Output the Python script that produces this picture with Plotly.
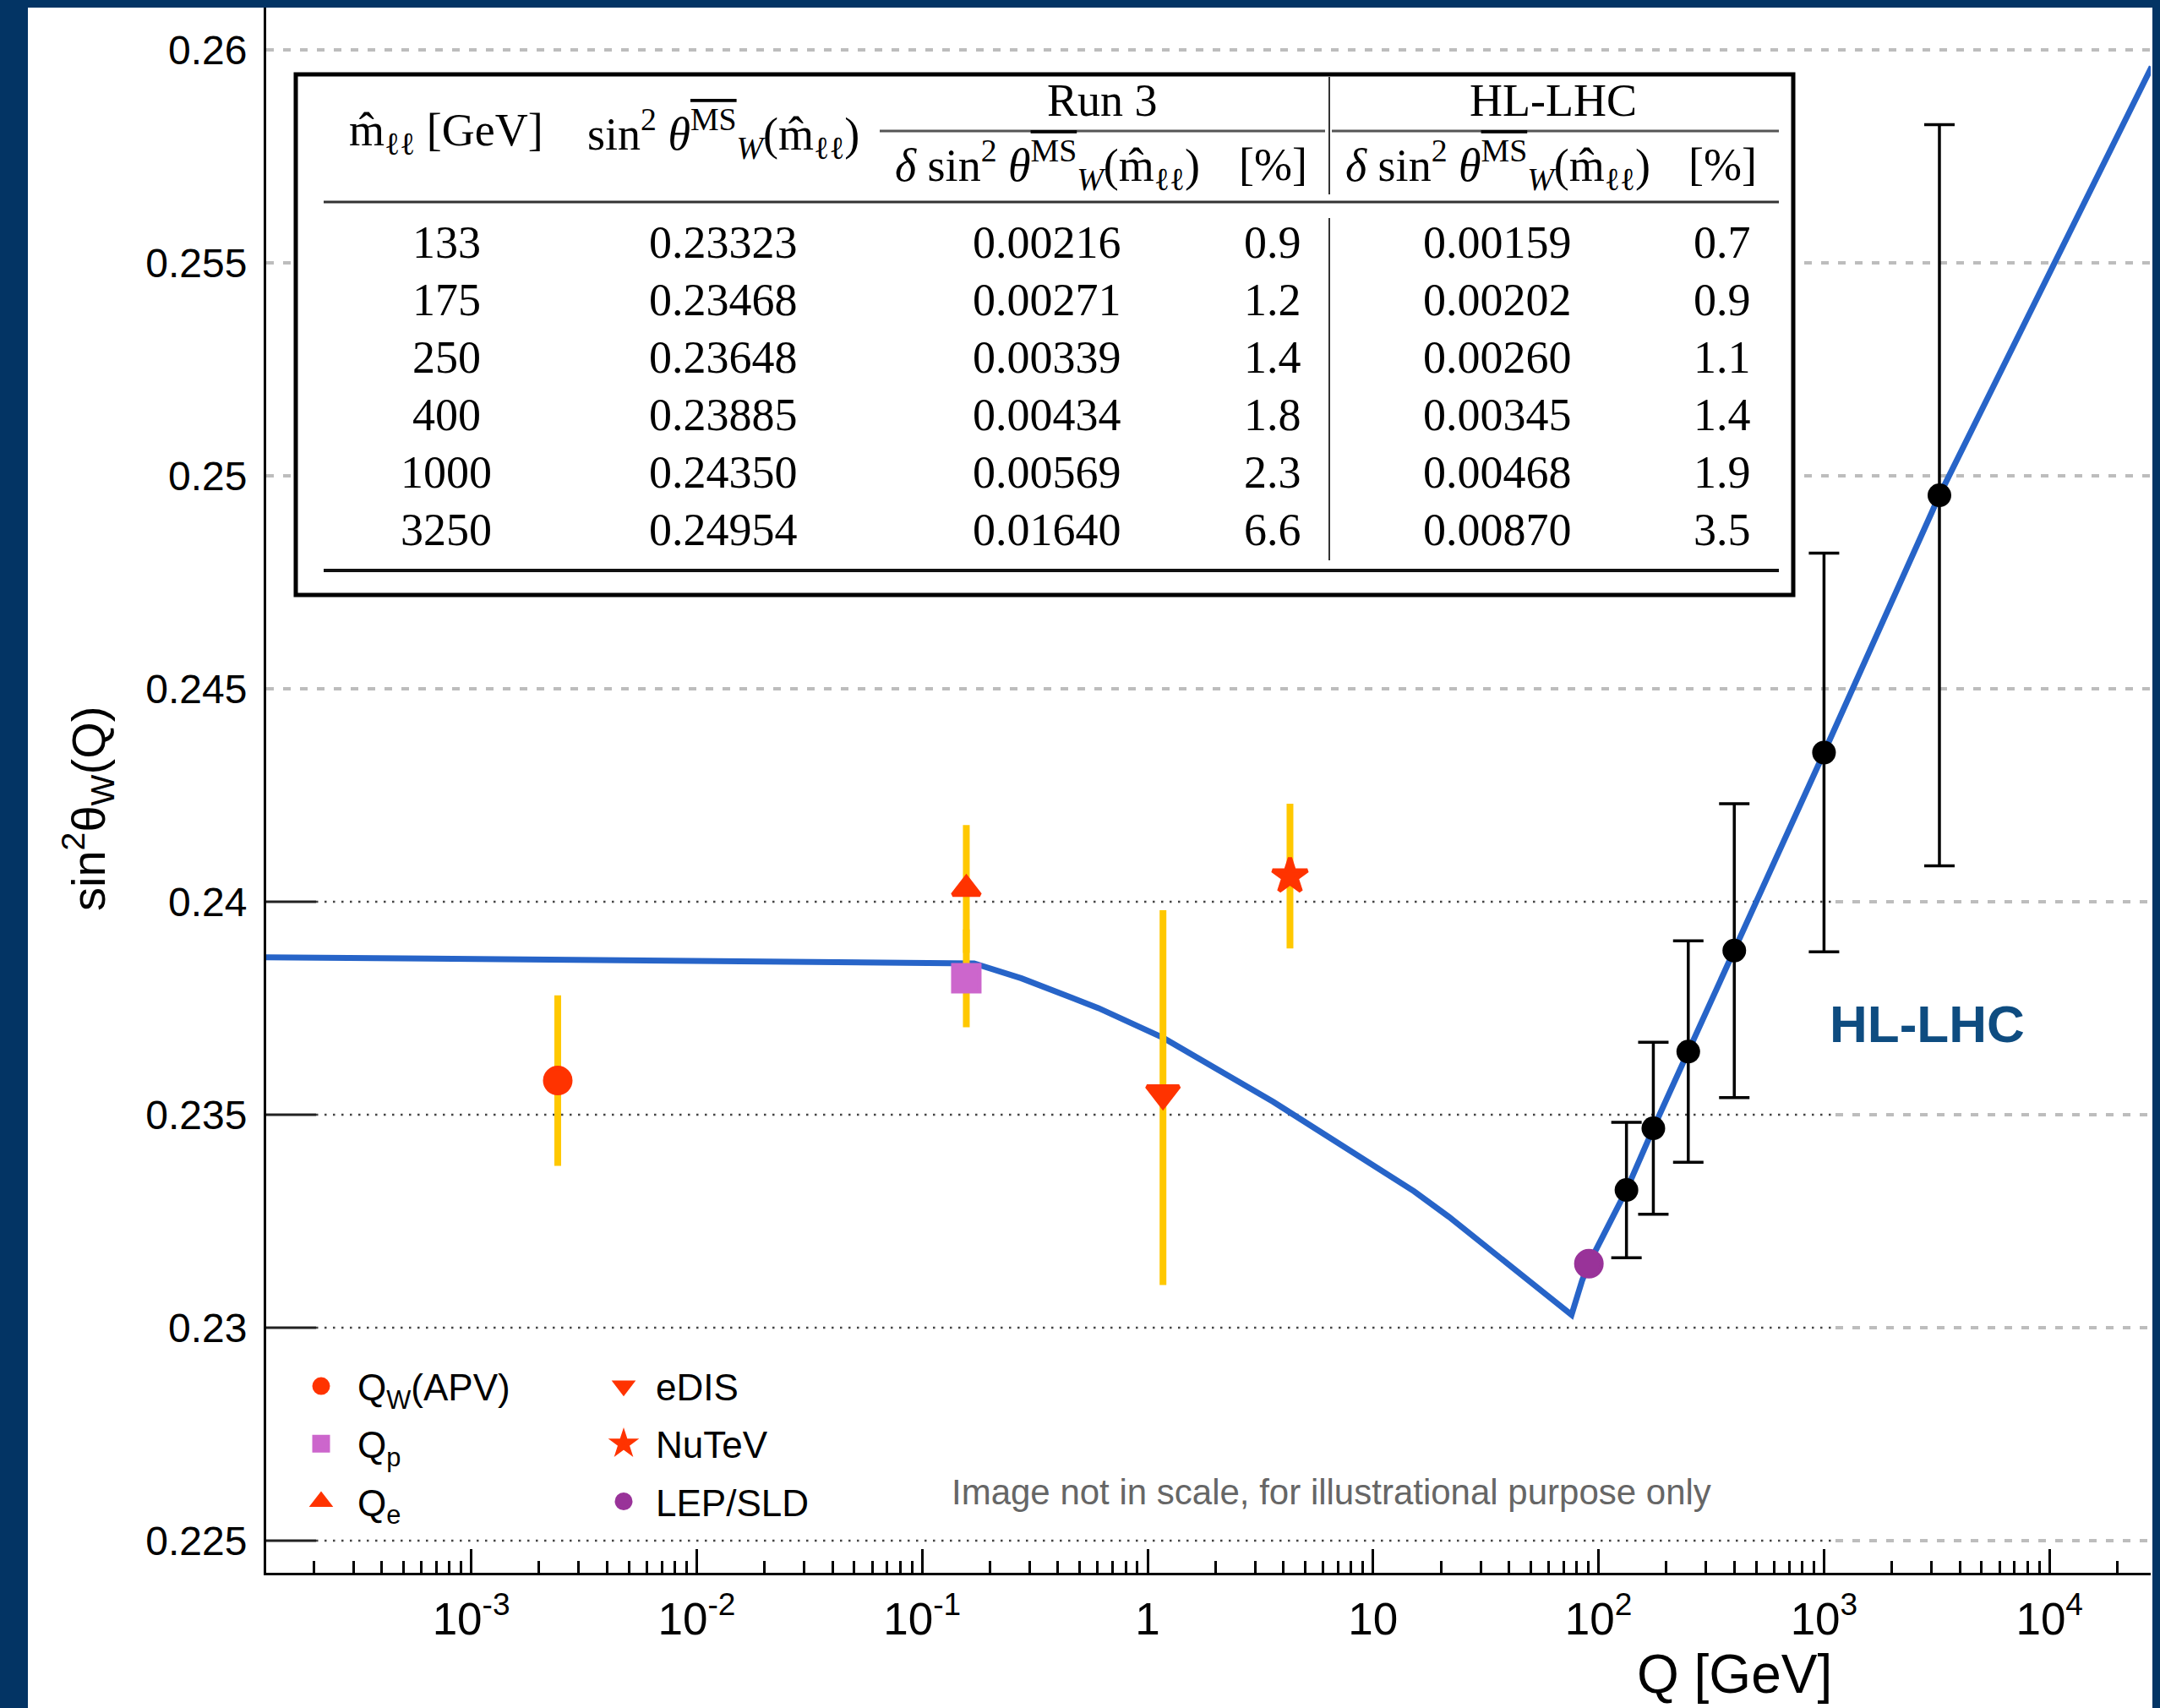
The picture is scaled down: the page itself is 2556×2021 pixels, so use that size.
import plotly.graph_objects as go

# ---------------- data ----------------
# HL-LHC / Run 3 projection table
mll = [133, 175, 250, 400, 1000, 3250]
sin2_mll = [0.23323, 0.23468, 0.23648, 0.23885, 0.24350, 0.24954]
run3_err = [0.00216, 0.00271, 0.00339, 0.00434, 0.00569, 0.01640]
run3_pct = [0.9, 1.2, 1.4, 1.8, 2.3, 6.6]
hllhc_err = [0.00159, 0.00202, 0.00260, 0.00345, 0.00468, 0.00870]
hllhc_pct = [0.7, 0.9, 1.1, 1.4, 1.9, 3.5]

# running of sin^2 theta_W
curve_q = [1e-4, 1e-2, 0.17, 0.276, 0.606, 1.175, 3.61, 15.2, 21.7, 75.9, 78.9,
           84.5, 90.6, 133, 175, 250, 400, 1000, 3250, 28400]
curve_s2 = [0.2387, 0.2386, 0.23855, 0.2382, 0.2375, 0.2368, 0.2353, 0.2332, 0.2326,
            0.2303, 0.2306, 0.2311, 0.2315, 0.23323, 0.23468, 0.23648, 0.23885,
            0.2435, 0.24954, 0.2596]

# low-energy measurements
exp_names = ["Q<sub>W</sub>(APV)", "Q<sub>p</sub>", "Q<sub>e</sub>", "eDIS", "NuTeV", "LEP/SLD"]
exp_q = [0.00242, 0.157, 0.157, 1.17, 4.28, 90.6]
exp_s2 = [0.2358, 0.2382, 0.2403, 0.2355, 0.2406, 0.2315]
exp_err_plus = [0.0020, 0.00115, 0.0015, 0.0043, 0.0017, 0.0]
exp_err_minus = [0.0020, 0.00115, 0.0015, 0.0045, 0.0017, 0.0]

# axis ticks
x_tickvals = [1e-3, 1e-2, 1e-1, 1, 10, 100, 1000, 10000]
x_ticktext = ["10<sup>-3</sup>", "10<sup>-2</sup>", "10<sup>-1</sup>", "1", "10",
              "10<sup>2</sup>", "10<sup>3</sup>", "10<sup>4</sup>"]
y_tickvals = [0.225, 0.23, 0.235, 0.24, 0.245, 0.25, 0.255, 0.26]
y_ticktext = ["0.225", "0.23", "0.235", "0.24", "0.245", "0.25", "0.255", "0.26"]
grid_dotted = [0.225, 0.23, 0.235, 0.24]
grid_dashed = [0.245, 0.25, 0.255, 0.26]

# ---------------- styles ----------------
RED = "#FF3300"
GOLD = "#FFC800"
NAVY = "#033464"
BLUE = "#2764C8"
SANS = "Liberation Sans, Arial, Helvetica, sans-serif"
SERIF = "Liberation Serif, Times New Roman, serif"
exp_symbols = ["circle", "square", "triangle-up", "triangle-down", "star", "circle"]
exp_colors = [RED, "#CC66CC", RED, RED, RED, "#993399"]
exp_sizes = [30, 31, 28, 33, 31, 30]
exp_legend = ["legend", "legend", "legend", "legend2", "legend2", "legend2"]

W_FIG, H_FIG = 2556, 2021
L, R, T, B = 315, 2545, 9, 1861
PW, PH = R - L, B - T


def px(x):
    return (x - L) / PW


def py(y):
    return (B - y) / PH


fig = go.Figure()

# running curve
fig.add_trace(go.Scatter(x=curve_q, y=curve_s2, mode="lines",
                         line=dict(color=BLUE, width=7), showlegend=False,
                         hoverinfo="skip"))

# HL-LHC projections
fig.add_trace(go.Scatter(x=mll, y=sin2_mll, mode="markers",
                         marker=dict(color="black", size=28, symbol="circle"),
                         error_y=dict(type="data", array=hllhc_err, color="black",
                                      thickness=3.5, width=18),
                         showlegend=False))

# measurements
for i, name in enumerate(exp_names):
    has_err = exp_err_plus[i] > 0
    fig.add_trace(go.Scatter(
        x=[exp_q[i]], y=[exp_s2[i]], mode="markers", name=name,
        legend=exp_legend[i], legendgroup=name,
        marker=dict(symbol=exp_symbols[i], color=exp_colors[i], size=exp_sizes[i],
                    line=dict(color=exp_colors[i], width=5)),
        error_y=dict(type="data", symmetric=False, array=[exp_err_plus[i]],
                     arrayminus=[exp_err_minus[i]], color=GOLD, thickness=8,
                     width=0, visible=has_err),
    ))

shapes = []
# white page area
shapes.append(dict(type="rect", xref="paper", yref="paper", layer="below",
                   x0=px(33), x1=px(2547), y0=py(2030), y1=py(9),
                   fillcolor="white", line=dict(width=0)))
# gridlines
tick_end = px(374)
dot_end = px(2172)
for v in grid_dotted:
    shapes.append(dict(type="line", xref="x domain", yref="y", layer="below",
                       x0=0, x1=tick_end, y0=v, y1=v,
                       line=dict(color="#222222", width=3)))
    shapes.append(dict(type="line", xref="x domain", yref="y", layer="below",
                       x0=tick_end, x1=dot_end, y0=v, y1=v,
                       line=dict(color="#444444", width=2.5, dash="2.5px,7.5px")))
    shapes.append(dict(type="line", xref="x domain", yref="y", layer="below",
                       x0=dot_end, x1=1, y0=v, y1=v,
                       line=dict(color="#BDBDBD", width=4, dash="9px,11px")))
for v in grid_dashed:
    shapes.append(dict(type="line", xref="x domain", yref="y", layer="below",
                       x0=0, x1=1, y0=v, y1=v,
                       line=dict(color="#BDBDBD", width=4, dash="9px,11px")))

# inset table frame and rules
shapes.append(dict(type="rect", xref="paper", yref="paper", layer="above",
                   x0=px(350), x1=px(2122), y0=py(704), y1=py(88),
                   fillcolor="white", line=dict(color="black", width=5)))


def hline(y, x0, x1, w=3, c="#333333"):
    shapes.append(dict(type="line", xref="paper", yref="paper", layer="above",
                       x0=px(x0), x1=px(x1), y0=py(y), y1=py(y),
                       line=dict(color=c, width=w)))


def vline(x, y0, y1, w=2, c="#333333"):
    shapes.append(dict(type="line", xref="paper", yref="paper", layer="above",
                       x0=px(x), x1=px(x), y0=py(y0), y1=py(y1),
                       line=dict(color=c, width=w)))


hline(155, 1041, 1568, 3, "#555555")
hline(155, 1576, 2105, 3, "#555555")
hline(239, 383, 2105, 3, "#333333")
hline(675, 383, 2105, 4, "#111111")
vline(1573, 91, 230)
vline(1573, 258, 663)

annotations = []


def txt(x, y, s, size=54, font=SERIF, color="black", xanchor="center", angle=0, yanchor="middle"):
    annotations.append(dict(xref="paper", yref="paper", x=px(x), y=py(y), text=s,
                            showarrow=False, xanchor=xanchor, yanchor=yanchor,
                            textangle=angle,
                            font=dict(family=font, size=size, color=color)))


col_x = [528, 856, 1239, 1506, 1772, 2038]
row_y = [287, 355, 423, 491, 559, 627]
MS = '<span style="text-decoration:overline">MS</span>'
mhat = "m&#770;<sub>&#8467;&#8467;</sub>"
txt(col_x[0], 158, mhat + " [GeV]")
txt(col_x[1], 158, "sin<sup>2</sup> <i>&#952;</i><sup>" + MS + "</sup><sub><i>W</i></sub>(" + mhat + ")")
txt(1304, 119, "Run 3")
txt(1838, 119, "HL-LHC")
dhead = "<i>&#948;</i> sin<sup>2</sup> <i>&#952;</i><sup>" + MS + "</sup><sub><i>W</i></sub>(" + mhat + ")"
txt(col_x[2], 195, dhead)
txt(col_x[3], 195, "[%]")
txt(col_x[4], 195, dhead)
txt(col_x[5], 195, "[%]")
for i in range(len(mll)):
    txt(col_x[0], row_y[i], f"{mll[i]}")
    txt(col_x[1], row_y[i], f"{sin2_mll[i]:.5f}")
    txt(col_x[2], row_y[i], f"{run3_err[i]:.5f}")
    txt(col_x[3], row_y[i], f"{run3_pct[i]:.1f}")
    txt(col_x[4], row_y[i], f"{hllhc_err[i]:.5f}")
    txt(col_x[5], row_y[i], f"{hllhc_pct[i]:.1f}")

# other labels
txt(2280, 1211, "<b>HL-LHC</b>", size=62, font=SANS, color="#0E4C80")
txt(1124, 1765, "Image not in scale, for illustrational purpose only", size=42,
    font=SANS, color="#666666", xanchor="left")
txt(104, 957, "sin<sup>2</sup>&#952;<sub>W</sub>(Q)", size=56, font=SANS, angle=-90)
txt(2052, 2019, "Q [GeV]", size=64, font=SANS, yanchor="bottom")

minor_vals = [m * 10 ** e for e in range(-4, 5) for m in range(2, 10)]

fig.update_layout(
    width=W_FIG, height=H_FIG,
    margin=dict(l=L, r=W_FIG - R, t=T, b=H_FIG - B, autoexpand=False),
    paper_bgcolor=NAVY, plot_bgcolor="white",
    shapes=shapes, annotations=annotations,
    font=dict(family=SANS, color="black"),
    xaxis=dict(type="log", range=[-3.9093, 4.449], showgrid=False, zeroline=False,
               showline=True, linecolor="black", linewidth=3,
               tickmode="array", tickvals=x_tickvals, ticktext=x_ticktext,
               ticks="inside", ticklen=28, tickwidth=2.5, tickcolor="black",
               tickfont=dict(size=53, family=SANS, color="black"),
               ticklabelstandoff=6,
               minor=dict(tickmode="array", tickvals=minor_vals, ticks="inside",
                          ticklen=14, tickwidth=2.5, tickcolor="black", showgrid=False)),
    yaxis=dict(range=[0.224244, 0.26099], showgrid=False, zeroline=False,
               showline=True, linecolor="black", linewidth=3,
               tickmode="array", tickvals=y_tickvals, ticktext=y_ticktext,
               ticks="", tickfont=dict(size=48, family=SANS, color="black"),
               ticklabelstandoff=10),
    legend=dict(x=px(337), y=py(1605), xanchor="left", yanchor="top",
                bgcolor="rgba(0,0,0,0)", borderwidth=0, itemwidth=76,
                tracegroupgap=8, font=dict(size=44, family=SANS, color="black")),
    legend2=dict(x=px(700), y=py(1605), xanchor="left", yanchor="top",
                 bgcolor="rgba(0,0,0,0)", borderwidth=0, itemwidth=66,
                 tracegroupgap=8, font=dict(size=44, family=SANS, color="black")),
    showlegend=True,
)

fig.write_html("out.html", config={"displayModeBar": False},
               post_script="document.body.style.margin='0px';document.body.style.overflow='hidden';")
